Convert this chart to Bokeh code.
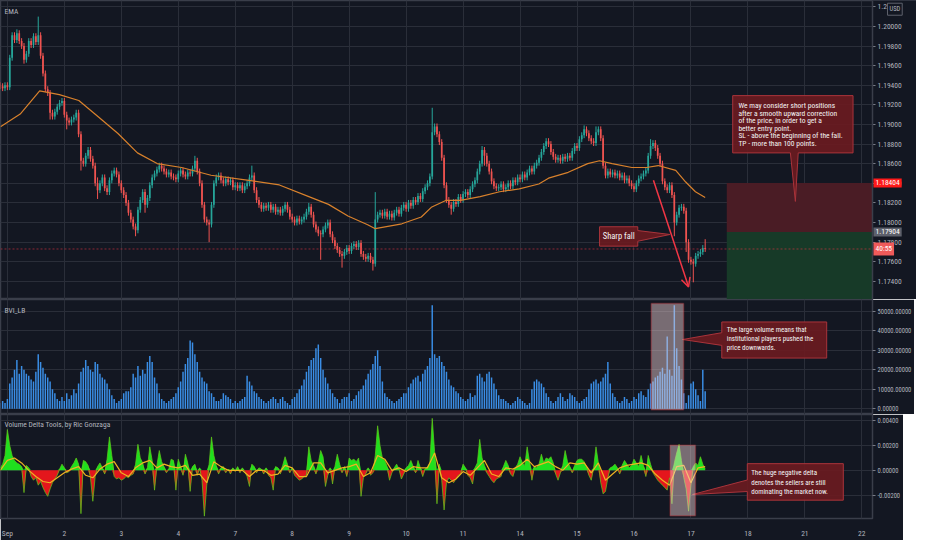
from bokeh.plotting import figure
from bokeh.layouts import column
from bokeh.models import (Range1d, FixedTicker, NumeralTickFormatter, BoxAnnotation,
                          Label, Arrow, OpenHead, Span, Grid)
from bokeh.core.properties import value
from bokeh.embed import file_html
from bokeh.resources import INLINE

# ------------------------------------------------------------------ data
day_labels = ["Sep", "2", "3", "4", "7", "8", "9", "10", "11", "14", "15", "16", "17", "18", "21", "22"]
day_ticks = [0, 24, 48, 72, 96, 120, 144, 168, 192, 216, 240, 264, 288, 312, 336, 360]  # trading hours
hours = list(range(-3, 295))  # hourly bars, weekends skipped

price_ticks = [1.174, 1.176, 1.178, 1.180, 1.182, 1.184, 1.186, 1.188, 1.190,
               1.192, 1.194, 1.196, 1.198, 1.200, 1.202]
volume_ticks = [0, 10000, 20000, 30000, 40000, 50000]
delta_ticks = [-0.002, 0.0, 0.002, 0.004]

BASE = 1.17  # closes are given in pips above 1.17000
close_pips = [
    239, 237, 240, 238, 268, 291, 286, 293, 285, 280,
    266, 272, 285, 281, 290, 284, 291, 270, 252, 236,
    232, 212, 208, 213, 218, 222, 224, 210, 204, 202,
    205, 207, 212, 190, 163, 160, 168, 174, 165, 158,
    140, 133, 140, 146, 135, 131, 143, 150, 153, 149,
    140, 133, 128, 120, 110, 103, 96, 92, 113, 123,
    131, 118, 125, 138, 146, 150, 154, 158, 155, 152,
    149, 151, 147, 146, 144, 150, 153, 149, 147, 151,
    150, 155, 163, 152, 140, 118, 103, 100, 98, 118,
    140, 146, 148, 143, 140, 144, 141, 143, 136, 138,
    135, 138, 133, 137, 140, 146, 148, 133, 123, 118,
    114, 117, 115, 118, 113, 116, 111, 113, 110, 114,
    118, 113, 106, 103, 100, 104, 101, 103, 106, 111,
    116, 108, 98, 93, 89, 88, 93, 97, 100, 88,
    82, 76, 72, 68, 66, 70, 74, 71, 76, 78,
    75, 79, 68, 65, 63, 66, 62, 58, 103, 108,
    110, 107, 111, 106, 109, 105, 110, 113, 109, 115,
    118, 114, 120, 117, 123, 121, 127, 124, 132, 136,
    140, 147, 192, 198, 190, 182, 166, 138, 123, 118,
    114, 121, 119, 126, 123, 129, 131, 128, 134, 139,
    143, 152, 160, 174, 168, 160, 152, 142, 137, 135,
    136, 139, 134, 136, 140, 137, 143, 141, 146, 144,
    149, 146, 151, 155, 152, 158, 161, 166, 172, 178,
    183, 180, 172, 167, 164, 166, 163, 167, 165, 168,
    166, 173, 178, 176, 185, 189, 195, 191, 186, 183,
    181, 192, 195, 186, 158, 148, 152, 149, 151, 148,
    150, 146, 148, 143, 145, 140, 137, 134, 140, 145,
    147, 150, 153, 168, 178, 181, 176, 168, 160, 142,
    136, 133, 138, 128, 100, 108, 115, 116, 112, 80,
    62, 60, 58, 66, 68, 70, 74, 73,
]
first_open_pips = 240
typical_wick_pips = 3
marked_high_pips = {7: 297, 16: 310, 41: 146, 82: 168, 106: 158, 130: 120, 158: 131,
                    182: 217, 203: 178, 246: 199, 251: 198, 274: 185, 297: 83}
marked_low_pips = {10: 262, 21: 205, 28: 195, 34: 153, 41: 124, 57: 86, 61: 110, 88: 80,
                   135: 62, 144: 54, 157: 51, 190: 108, 204: 158, 284: 86, 289: 70, 292: 39}

ema_hours = [-2.9, 5.4, 13.6, 21.9, 30.1, 38.4, 46.6, 54.8, 63.1, 73.4, 85.8, 101.0, 114.6,
             127.0, 135.3, 143.5, 151.8, 155.0, 166.2, 174.4, 178.6, 184.7, 190.9, 199.2,
             207.4, 215.7, 223.9, 228.0, 236.3, 244.5, 249.5, 254.8, 263.1, 269.3, 274.2,
             281.6, 285.8, 289.9, 294.0]
ema_pips = [197.7, 210.6, 234.3, 230.4, 224.4, 207.6, 190.8, 171.0, 160.1, 156.1, 148.2, 143.2,
            138.3, 126.4, 118.5, 106.6, 97.7, 93.7, 98.7, 105.6, 115.5, 122.5, 122.5, 126.4,
            131.4, 134.3, 139.3, 145.2, 151.2, 160.1, 163.0, 160.1, 156.1, 156.1, 158.1,
            153.2, 141.3, 131.4, 125.4]

volume_k = [  # thousands
    3, 4, 3, 5, 13, 16, 20, 25, 18, 22,
    20, 18, 17, 15, 14, 19, 28, 24, 21, 18,
    16, 14, 10, 8, 5, 4, 6, 4, 8, 5,
    7, 10, 8, 13, 19, 21, 25, 22, 20, 19,
    24, 23, 18, 16, 15, 13, 10, 7, 5, 3,
    4, 5, 8, 9, 9, 11, 18, 16, 22, 17,
    20, 18, 24, 27, 24, 16, 13, 8, 5, 4,
    3, 4, 5, 6, 8, 11, 14, 19, 23, 26,
    35, 34, 28, 24, 19, 16, 14, 13, 9, 8,
    6, 4, 4, 5, 8, 7, 6, 5, 3, 4,
    3, 4, 5, 6, 17, 14, 12, 9, 8, 6,
    5, 4, 3, 4, 5, 6, 5, 3, 5, 6,
    4, 3, 2, 5, 6, 8, 10, 12, 15, 19,
    22, 25, 26, 31, 33, 26, 20, 16, 13, 10,
    8, 6, 5, 3, 5, 6, 6, 8, 4, 5,
    7, 9, 10, 12, 15, 18, 20, 23, 27, 30,
    22, 14, 8, 6, 5, 4, 3, 4, 5, 6,
    8, 8, 11, 13, 15, 16, 17, 14, 18, 20,
    22, 26, 53, 28, 26, 27, 24, 22, 19, 15,
    12, 11, 9, 8, 6, 5, 4, 5, 8, 6,
    7, 17, 18, 16, 14, 18, 19, 16, 13, 10,
    7, 5, 5, 4, 3, 2, 3, 4, 6, 5,
    4, 3, 2, 3, 10, 14, 15, 14, 13, 11,
    8, 6, 4, 3, 4, 6, 8, 6, 4, 5,
    8, 7, 6, 4, 3, 4, 5, 6, 10, 13,
    14, 15, 13, 14, 16, 18, 24, 13, 8, 6,
    4, 3, 4, 6, 5, 3, 4, 6, 5, 8,
    9, 7, 6, 10, 13, 14, 16, 17, 19, 21,
    18, 37, 20, 17, 53, 31, 22, 15, 8, 3,
    7, 13, 14, 10, 7, 4, 20, 9,
]

delta_e4 = [  # volume delta, units of 0.0001
    2, 5, 12, 33, 20, 12, 8, 6, 5, 3,
    -18, 4, 2, -5, -8, -6, -12, -9, -14, -18,
    -21, -15, -10, -7, -4, 1, 5, 2, -2, -1,
    3, 6, 10, 5, -35, 8, 7, 4, -6, -25,
    -5, 3, 6, 2, -3, 9, 27, 12, -5, -7,
    -6, -8, -7, -5, -6, -4, -3, 5, 21, 10,
    6, -3, 2, 19, 8, -16, 4, 16, 7, 3,
    -2, 1, 9, 8, -16, 9, 3, -4, 13, 6,
    -17, 3, 5, -4, 2, -8, -37, -12, 5, 27,
    12, 4, -3, 2, 3, -2, 1, -3, 2, -1,
    3, -2, 2, -1, -5, -13, 5, 3, -2, 2,
    1, -3, 2, -4, -6, -16, 3, 2, -3, 4,
    11, 5, -2, 2, -4, -6, -8, -7, -5, -4,
    19, 8, 4, -3, 6, 16, 11, -13, -4, 2,
    -11, 3, 13, 5, -2, 3, -5, 10, 8, 9,
    7, 10, -21, -6, -3, 2, -4, -2, 12, 36,
    20, 10, 8, 3, -8, -2, 2, 5, 1, -7,
    -3, 2, 4, 8, 3, -2, 8, 2, -5, 1,
    3, 6, 42, 15, -27, 5, -8, -32, -10, -6,
    -8, -10, -7, -4, -3, 5, 2, -4, -6, -11,
    2, 6, 25, 10, 4, -2, -5, -8, -10, -7,
    -6, -5, 3, 8, 4, -3, -5, 2, 5, 11,
    6, 4, 19, 7, -8, 3, 2, 5, 13, 6,
    10, 9, 11, 6, -3, -8, -2, 4, 16, 7,
    3, -2, 4, 8, 9, 9, 7, 3, -4, -8,
    2, 19, 6, -10, -19, -17, -6, 2, 3, 5,
    2, -3, 4, 8, 5, 2, 4, 9, 6, 3,
    12, 4, -5, 12, 5, -2, -5, -8, -10, -12,
    -14, -16, -6, -27, 6, 14, 21, 8, -6, -15,
    -33, -12, 3, 6, 4, 11, 5, 1,
]
delta_ma_e4 = [  # signal line, every 3rd bar
    0, 8, 10, 6, 0, -5, -9, -10, -6, -2,
    1, 3, -4, -6, 1, 5, 7, -2, -5, 2,
    6, 8, 2, 5, 3, 2, 4, -4, -3, -10,
    7, 3, 0, 0, 0, -5, 0, 0, -4, -3,
    4, 2, -5, -5, 6, 6, -2, 0, 2, 3,
    5, -5, -2, 12, 9, 0, 2, -1, 3, 2,
    2, 14, -6, -10, -7, -1, -4, 2, 8, -3,
    -5, 2, 1, 4, 9, 3, 5, 7, 3, 0,
    6, 5, 6, -2, 6, -8, -3, 2, 4, 5,
    6, 4, -3, -8, -12, 3, 4, -10, 2, 3,
]

last_price = 1.17730
stop_price = 1.18404
entry_price = 1.17904
countdown = "40:55"

# ------------------------------------------------------------------ style
BG = "#131722"
GRID_C = "#2a2e39"
SEP_C = "#3a3e4a"
TXT = "#b2b5be"
FONT = "'Roboto Condensed', 'Roboto', sans-serif"
UP, DOWN = "#26a69a", "#ef5350"
RED = "#f23645"
X_START, X_END = -2.9, 364.5
FRAME_W = 872
STRIP_W = 44                      # px of the price-scale strip
TOTAL_W = FRAME_W + STRIP_W
HOURS_PER_PX = (X_END - X_START) / FRAME_W
X_END_WIDE = X_END + STRIP_W * HOURS_PER_PX
PRICE_Y = (1.17215, 1.20264)

x_range = Range1d(X_START, X_END)


def style_axis(ax, ticks, label_size):
    ax.ticker = FixedTicker(ticks=ticks)
    ax.formatter = NumeralTickFormatter(format="0.00000")
    ax.axis_line_color = None
    ax.major_tick_out = 3
    ax.major_tick_in = 0
    ax.major_tick_line_color = "#787b86"
    ax.minor_tick_line_color = None
    ax.major_label_text_color = TXT
    ax.major_label_text_font = FONT
    ax.major_label_text_font_size = label_size
    ax.major_label_standoff = 2


def pane(y0, y1, frame_h, ticks, with_x_axis=False, label_size="7.5px"):
    p = figure(x_range=x_range, y_range=Range1d(y0, y1), frame_width=FRAME_W, frame_height=frame_h,
               output_backend="svg", toolbar_location=None, tools="",
               y_axis_location="right", x_axis_location="below" if with_x_axis else None,
               background_fill_color=BG, border_fill_color=BG,
               min_border_left=0, min_border_right=0, min_border_top=0, min_border_bottom=0)
    p.outline_line_color = SEP_C
    p.outline_line_width = 1.5
    p.xgrid.grid_line_color = None
    p.ygrid.grid_line_color = GRID_C
    p.ygrid.ticker = FixedTicker(ticks=ticks)
    p.add_layout(Grid(dimension=0, ticker=FixedTicker(ticks=day_ticks), grid_line_color=GRID_C))
    style_axis(p.yaxis[0], ticks, label_size)
    return p


def title_label(p, y, text):
    p.add_layout(Label(x=X_START, y=y, x_offset=4, text=text, text_color=TXT, text_font=FONT,
                       text_font_size="7.5px", text_baseline="middle"))


def callout_text(p, x, ys, lines, size):
    p.text(x=[x] * len(lines), y=ys, text=lines, text_font=value(FONT), text_font_size=size,
           text_color="#f4f4f4", text_baseline="middle", text_align="left")


CALL_FILL, CALL_LINE = "#6a1b21", "#a9343b"

# ------------------------------------------------------------------ price pane
# Its frame spans the price-scale strip too, so the price badges can sit on it.
pp = figure(x_range=Range1d(X_START, X_END_WIDE), y_range=Range1d(*PRICE_Y),
            frame_width=TOTAL_W, frame_height=299,
            output_backend="svg", toolbar_location=None, tools="",
            y_axis_location="right", x_axis_location=None,
            background_fill_color=BG, border_fill_color=BG,
            min_border_left=0, min_border_right=0, min_border_top=0, min_border_bottom=0)
pp.outline_line_color = SEP_C
pp.outline_line_width = 1.5
pp.xgrid.grid_line_color = None
pp.ygrid.grid_line_color = GRID_C
pp.ygrid.ticker = FixedTicker(ticks=price_ticks)
pp.add_layout(Grid(dimension=0, ticker=FixedTicker(ticks=day_ticks), grid_line_color=GRID_C))
style_axis(pp.yaxis[0], price_ticks, "7.5px")
pp.yaxis[0].fixed_location = X_END

# plain strip behind the price scale
pp.add_layout(BoxAnnotation(left=X_END, right=X_END_WIDE, bottom=PRICE_Y[0], top=PRICE_Y[1],
                            fill_color=BG, fill_alpha=1, line_color=None, level="underlay"))
pp.add_layout(Span(location=X_END, dimension="height", line_color=SEP_C, line_width=1.5))

highs, lows, tops, bots, cols = [], [], [], [], []
prev = first_open_pips
for i, c in enumerate(close_pips):
    o = prev
    hi = marked_high_pips.get(i, max(o, c) + typical_wick_pips)
    lo = marked_low_pips.get(i, min(o, c) - typical_wick_pips)
    highs.append(BASE + max(hi, o, c) / 10000)
    lows.append(BASE + min(lo, o, c) / 10000)
    tops.append(BASE + max(o, c) / 10000)
    bots.append(BASE + min(o, c) / 10000)
    cols.append(UP if c >= o else DOWN)
    prev = c

# position tool zones
pp.add_layout(BoxAnnotation(left=303.1, right=X_END, bottom=entry_price, top=stop_price,
                            fill_color="#4a1c25", fill_alpha=1, line_color=None, level="underlay"))
pp.add_layout(BoxAnnotation(left=303.1, right=X_END, bottom=PRICE_Y[0], top=entry_price,
                            fill_color="#173a28", fill_alpha=1, line_color=None, level="underlay"))

pp.segment(x0=hours, y0=lows, x1=hours, y1=highs, line_color=cols, line_width=1)
pp.vbar(x=hours, top=tops, bottom=bots, width=0.72, fill_color=cols, line_color=None)
pp.line(x=ema_hours, y=[BASE + v / 10000 for v in ema_pips], line_color="#d8812c", line_width=1.2)

# last-price line, up to the price scale
pp.segment(x0=[X_START], y0=[last_price], x1=[X_END], y1=[last_price], line_color=RED,
           line_alpha=0.55, line_width=1, line_dash="2 2")

# "Sharp fall" callout
sf_x0, sf_x1, sf_top, sf_bot = 249.5, 265.6, 1.17957, 1.17759
pp.patch(x=[sf_x0, sf_x1, sf_x1, 279.2, sf_x1, sf_x1, sf_x0],
         y=[sf_top, sf_top, 1.17918, 1.17878, 1.17809, sf_bot, sf_bot],
         fill_color=CALL_FILL, fill_alpha=0.92, line_color=CALL_LINE, line_width=1)
pp.text(x=[257.6], y=[1.17858], text=["Sharp fall"], text_font=value(FONT), text_font_size="8.5px",
        text_color="#f4f4f4", text_baseline="middle", text_align="center")

# trade idea callout
c1_x0, c1_x1, c1_top, c1_bot = 305.6, 356.3, 1.19294, 1.18710
pp.patch(x=[c1_x0, c1_x1, c1_x1, 333.2, 332.0, 329.9, c1_x0],
         y=[c1_top, c1_top, c1_bot, c1_bot, 1.18215, c1_bot, c1_bot],
         fill_color=CALL_FILL, fill_alpha=0.92, line_color=CALL_LINE, line_width=1)
callout_text(pp, 308.0, [1.19195, 1.19116, 1.19036, 1.18962, 1.18888, 1.18809],
             ["We may consider short positions",
              "after a smooth upward correction",
              "of the price, in order to get a",
              "better entry point.",
              "SL - above the beginning of the fall.",
              "TP - more than 100 points."], "7.5px")

pp.add_layout(Arrow(x_start=272.2, y_start=1.18432, x_end=287.0, y_end=1.17344,
                    line_color=RED, line_width=1.5,
                    end=OpenHead(size=9, line_color=RED, line_width=1.5)))

title_label(pp, 1.20155, "EMA")

# price-scale badges
for txt, yv, bg in [("1.18404", stop_price, "#ff1a1a"), ("1.17904", entry_price, "#5d606b"),
                    (countdown, last_price, "#ef5a5a")]:
    pp.add_layout(Label(x=X_END, y=yv, x_offset=1, text=txt, text_font=FONT, text_font_size="7.5px",
                        text_color="#ffffff", text_baseline="middle", text_align="left",
                        background_fill_color=bg, background_fill_alpha=1, padding=2))
pp.add_layout(Label(x=X_END, y=1.20175, x_offset=15, text="USD", text_font=FONT, text_font_size="6.5px",
                    text_color=TXT, text_baseline="middle", text_align="left",
                    background_fill_color=BG, background_fill_alpha=1,
                    border_line_color="#5d606b", border_line_alpha=1, padding=2))

# ------------------------------------------------------------------ volume pane
pv = pane(-2900, 56000, 115, volume_ticks, label_size="6.5px")
pv.vbar(x=hours, top=[v * 1000 for v in volume_k], bottom=0, width=0.62,
        fill_color="#3a8ee6", line_color=None)
pv.add_layout(BoxAnnotation(left=271.3, right=284.9, bottom=-500, top=54000,
                            fill_color="#f3d4d6", fill_alpha=0.45, line_color="#e0363c", line_width=1.5))
v_x0, v_x1, v_top, v_bot = 301.0, 345.2, 44500, 26000
pv.patch(x=[v_x0, v_x1, v_x1, v_x0, v_x0, 284.5, v_x0],
         y=[v_top, v_top, v_bot, v_bot, 32500, 35500, 39000],
         fill_color=CALL_FILL, fill_alpha=0.92, line_color=CALL_LINE, line_width=1)
callout_text(pv, 303.1, [40300, 35600, 31000],
             ["The large volume means that",
              "institutional players pushed the",
              "price downwards."], "7px")
title_label(pv, 50500, "BVI_LB")

# ------------------------------------------------------------------ delta pane
pd_ = pane(-0.00389, 0.00451, 104, delta_ticks, with_x_axis=True, label_size="6.5px")
dvals = [v / 10000 for v in delta_e4]
pd_.varea(x=hours, y1=[0] * len(hours), y2=[max(v, 0) for v in dvals], fill_color="#1ee01e")
pd_.varea(x=hours, y1=[0] * len(hours), y2=[min(v, 0) for v in dvals], fill_color="#e4161c")
pd_.line(x=hours, y=dvals, line_color="#62c81a", line_width=0.8, line_alpha=0.9)
pd_.line(x=hours[::3], y=[v / 10000 for v in delta_ma_e4], line_color="#f0b323", line_width=1.2)
pd_.add_layout(BoxAnnotation(left=279.2, right=289.9, bottom=-0.00366, top=0.00202,
                             fill_color="#f3d4d6", fill_alpha=0.45, line_color="#e0363c", line_width=1.5))
d_x0, d_x1, d_top, d_bot = 311.75, 352.2, 0.00054, -0.00241
pd_.patch(x=[d_x0, d_x1, d_x1, d_x0, d_x0, 288.7, d_x0],
          y=[d_top, d_top, d_bot, d_bot, -0.00171, -0.00195, -0.00078],
          fill_color=CALL_FILL, fill_alpha=0.92, line_color=CALL_LINE, line_width=1)
callout_text(pd_, 313.4, [-0.00025, -0.00100, -0.00173],
             ["The huge negative delta",
              "denotes the sellers are still",
              "dominating the market now."], "7px")
title_label(pd_, 0.00374, "Volume Delta Tools, by Ric Gonzaga")

xa = pd_.xaxis[0]
xa.ticker = FixedTicker(ticks=day_ticks)
xa.major_label_overrides = {t: lab for t, lab in zip(day_ticks, day_labels)}
xa.axis_line_color = None
xa.major_tick_line_color = None
xa.minor_tick_line_color = None
xa.major_label_text_color = TXT
xa.major_label_text_font = FONT
xa.major_label_text_font_size = "7.5px"
xa.major_label_standoff = 4

layout = column(pp, pv, pd_, spacing=0)
open("out.html", "w").write(file_html(layout, INLINE, title="EURUSD"))
